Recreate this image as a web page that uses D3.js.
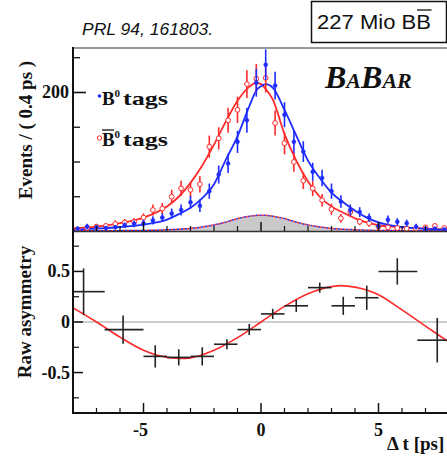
<!DOCTYPE html>
<html lang="en">
<head>
<meta charset="UTF-8">
<title>BaBar sin2beta: Delta t distributions and raw asymmetry</title>
<script src="https://cdn.jsdelivr.net/npm/d3@7"></script>
<style>
    body { margin: 0; background: #fff; }
    svg { display: block; }
    .serif { font-family: 'Liberation Serif', 'DejaVu Serif', serif; font-weight: bold; fill: #111; }
    .sans { font-family: 'Liberation Sans', Arial, sans-serif; fill: #111; }
</style>
</head>
<body>
<svg id="chart" width="447" height="457"></svg>
<script>
// --- data ---
// top panel: 0.4 ps bins, centres
const binCentres = [-7.8, -7.4, -7.0, -6.6, -6.2, -5.8, -5.4, -5.0, -4.6, -4.2,
                    -3.8, -3.4, -3.0, -2.6, -2.2, -1.8, -1.4, -1.0, -0.6, -0.2,
                     0.2,  0.6,  1.0,  1.4,  1.8,  2.2,  2.6,  3.0,  3.4,  3.8,
                     4.2,  4.6,  5.0,  5.4,  5.8,  6.2,  6.6,  7.0,  7.4,  7.8];
const b0Counts = [4, 7, 6, 5, 6, 9, 11, 12, 16, 20, 26, 31, 42, 37, 58, 82, 98, 129, 160, 214,
                  240, 210, 168, 129, 115, 86, 77, 58, 43, 31, 28, 20, 8, 17, 14, 12, 7, 4, 4, 3];
const b0Errors = [3, 4, 3, 3, 3, 4, 5, 5, 6, 6, 7, 8, 9, 9, 11, 13, 14, 16, 18, 20,
                  22, 20, 18, 16, 15, 13, 12, 11, 9, 8, 7, 6, 4, 6, 5, 5, 4, 3, 3, 2];
const b0barCounts = [3, 5, 7, 8, 11, 13, 14, 20, 31, 33, 50, 62, 60, 68, 122, 134, 160, 175, 212, 220,
                     221, 156, 127, 100, 73, 62, 45, 32, 19, 28, 14, 12, 7, 6, 5, 4, 4, 6, 8, 5];
const b0barErrors = [2, 3, 4, 4, 5, 5, 5, 6, 8, 8, 10, 11, 11, 12, 16, 16, 18, 19, 20, 21,
                     21, 18, 16, 14, 12, 11, 9, 8, 6, 7, 5, 5, 4, 3, 3, 3, 3, 3, 4, 3];

// fit curves
const fitT     = [-8, -7, -6, -5, -4, -3.5, -3, -2.5, -2, -1.5, -1, -0.5, -0.2, 0, 0.2, 0.5, 1, 1.5, 2, 2.5, 3, 3.5, 4, 4.5, 5, 6, 7, 8];
const fitB0    = [2.5, 4, 6.5, 10, 17, 25, 34, 48, 68, 103, 137, 180, 203, 209, 212, 207, 175, 138, 102, 77, 56, 42, 30, 20, 13, 6.5, 3.8, 2.5];
const fitB0bar = [4.5, 7, 12, 20, 36, 50, 70, 95, 125, 158, 188, 208, 214, 212, 205, 190, 140, 102, 72, 50, 36, 27, 19, 13, 9, 6, 4, 3];
const bkgT     = [-8, -5, -4, -3, -2, -1.5, -1, -0.5, 0, 0.5, 1, 1.5, 2, 3, 4, 5, 8];
const bkgCounts = [1, 1.5, 2.5, 4.5, 9.5, 13.5, 18.5, 22, 23.5, 22, 18.5, 13.5, 9.5, 4.5, 2.5, 1.5, 1];

// bottom panel: raw asymmetry in variable bins
const asymT    = [-7.55, -5.87, -4.5, -3.5, -2.5, -1.45, -0.5, 0.5, 1.5, 2.5, 3.5, 4.5, 5.8, 7.5];
const asymLo   = [-8, -6.65, -5, -4, -3, -2, -1, 0, 1, 2, 3, 4, 5, 6.65];
const asymHi   = [-6.65, -5, -4, -3, -2, -1, 0, 1, 2, 3, 4, 5, 6.65, 8];
const asymVal  = [0.30, -0.075, -0.34, -0.35, -0.34, -0.22, -0.075, 0.08, 0.16, 0.34, 0.16, 0.24, 0.50, -0.18];
const asymErr  = [0.23, 0.14, 0.11, 0.08, 0.09, 0.05, 0.055, 0.05, 0.06, 0.05, 0.09, 0.12, 0.13, 0.22];
const asymFitT = [-8, -7, -6, -5, -4, -3.4, -3, -2, -1, 0, 1, 2, 3, 3.4, 4, 5, 6, 7, 8];
const asymFit  = [0.14, 0.0, -0.15, -0.28, -0.35, -0.36, -0.355, -0.28, -0.155, 0, 0.155, 0.28, 0.35, 0.36, 0.345, 0.27, 0.12, -0.04, -0.2];

const topTicksMajor = [200];
const topTicksMinor = [50, 100, 150, 250];
const xTicksMajor = [-5, 0, 5];
const xTicksMinor = [-7, -6, -4, -3, -2, -1, 1, 2, 3, 4, 6, 7];
const asymTicksMajor = [-0.5, 0, 0.5];
const asymTicksMinor = [-0.75, -0.25, 0.25, 0.75];

const blue = "#1f2cff", red = "#ff2a2a";

const svg = d3.select("#chart");

const x = d3.scaleLinear().domain([-8, 8]).range([73, 449]);
const yTop = d3.scaleLinear().domain([0, 264]).range([231.5, 48]);
const yBot = d3.scaleLinear().domain([-0.9, 0.9]).range([413, 231]);

svg.append("clipPath").attr("id", "clipTop")
   .append("rect").attr("x", 73).attr("y", 48).attr("width", 376).attr("height", 184);
svg.append("clipPath").attr("id", "clipBot")
   .append("rect").attr("x", 73).attr("y", 231).attr("width", 376).attr("height", 182);

// ---------- top panel ----------
const topG = svg.append("g").attr("clip-path", "url(#clipTop)");

// background component
const bkg = bkgT.map((t, i) => [t, bkgCounts[i]]);
topG.append("path")
   .attr("d", d3.area().x(d => x(d[0])).y0(yTop(0)).y1(d => yTop(d[1])).curve(d3.curveMonotoneX)(bkg))
   .attr("fill", "#c9c9c9");
const bkgLine = d3.line().x(d => x(d[0])).y(d => yTop(d[1])).curve(d3.curveMonotoneX);
topG.append("path").attr("d", bkgLine(bkg)).attr("fill", "none")
   .attr("stroke", blue).attr("stroke-width", 1.5).attr("stroke-dasharray", "2,2");
topG.append("path").attr("d", bkgLine(bkg)).attr("fill", "none")
   .attr("stroke", red).attr("stroke-width", 1.5).attr("stroke-dasharray", "2,2").attr("stroke-dashoffset", 2);

// fit curves
const fitLine = d3.line().x(d => x(d[0])).y(d => yTop(d[1])).curve(d3.curveMonotoneX);
topG.append("path").attr("d", fitLine(fitT.map((t, i) => [t, fitB0bar[i]])))
   .attr("fill", "none").attr("stroke", red).attr("stroke-width", 1.8);
topG.append("path").attr("d", fitLine(fitT.map((t, i) => [t, fitB0[i]])))
   .attr("fill", "none").attr("stroke", blue).attr("stroke-width", 1.8);

// data points
function drawPoints(counts, errors, color, open) {
    const g = topG.append("g");
    const pts = binCentres.map((t, i) => ({t, n: counts[i], e: errors[i]}));
    g.selectAll("line").data(pts).join("line")
     .attr("x1", d => x(d.t)).attr("x2", d => x(d.t))
     .attr("y1", d => yTop(d.n - d.e)).attr("y2", d => yTop(d.n + d.e))
     .attr("stroke", color).attr("stroke-width", 1.6);
    g.selectAll("circle").data(pts).join("circle")
     .attr("cx", d => x(d.t)).attr("cy", d => yTop(d.n))
     .attr("r", open ? 2.4 : 2)
     .attr("fill", open ? "#fff" : color)
     .attr("stroke", color).attr("stroke-width", open ? 1 : 0.5);
}
drawPoints(b0barCounts, b0barErrors, red, true);
drawPoints(b0Counts, b0Errors, blue, false);

// frame and ticks of the top panel
svg.append("line").attr("x1", 73).attr("x2", 447).attr("y1", 48).attr("y2", 48)
   .attr("stroke", "#777").attr("stroke-width", 1.5);
svg.append("g").selectAll("line").data(topTicksMajor).join("line")
   .attr("x1", 73).attr("x2", 86).attr("y1", d => yTop(d)).attr("y2", d => yTop(d))
   .attr("stroke", "#111").attr("stroke-width", 1.6);
svg.append("g").selectAll("line").data(topTicksMinor).join("line")
   .attr("x1", 73).attr("x2", 80).attr("y1", d => yTop(d)).attr("y2", d => yTop(d))
   .attr("stroke", "#111").attr("stroke-width", 1.3);
svg.append("g").selectAll("text").data(topTicksMajor).join("text").attr("class", "serif")
   .attr("x", 69).attr("y", d => yTop(d) + 6).attr("text-anchor", "end")
   .attr("font-size", 18).text(d => d);

function xTicks(yBase, majLen, minLen) {
    svg.append("g").selectAll("line").data(xTicksMajor).join("line")
       .attr("x1", d => x(d)).attr("x2", d => x(d)).attr("y1", yBase).attr("y2", yBase - majLen)
       .attr("stroke", "#111").attr("stroke-width", 1.5);
    svg.append("g").selectAll("line").data(xTicksMinor).join("line")
       .attr("x1", d => x(d)).attr("x2", d => x(d)).attr("y1", yBase).attr("y2", yBase - minLen)
       .attr("stroke", "#111").attr("stroke-width", 1.2);
}
xTicks(231, 9, 5);

// ---------- bottom panel ----------
const botG = svg.append("g").attr("clip-path", "url(#clipBot)");
botG.append("line").attr("x1", 73).attr("x2", 449).attr("y1", yBot(0)).attr("y2", yBot(0))
   .attr("stroke", "#bdbdbd").attr("stroke-width", 1.5);
botG.append("path")
   .attr("d", d3.line().x(d => x(d[0])).y(d => yBot(d[1])).curve(d3.curveMonotoneX)(asymFitT.map((t, i) => [t, asymFit[i]])))
   .attr("fill", "none").attr("stroke", red).attr("stroke-width", 1.6);
const asym = asymT.map((t, i) => ({t, lo: asymLo[i], hi: asymHi[i], v: asymVal[i], e: asymErr[i]}));
botG.append("g").selectAll("line").data(asym).join("line")
   .attr("x1", d => x(d.lo)).attr("x2", d => x(d.hi)).attr("y1", d => yBot(d.v)).attr("y2", d => yBot(d.v))
   .attr("stroke", "#222").attr("stroke-width", 1.6);
botG.append("g").selectAll("line").data(asym).join("line")
   .attr("x1", d => x(d.t)).attr("x2", d => x(d.t)).attr("y1", d => yBot(d.v - d.e)).attr("y2", d => yBot(d.v + d.e))
   .attr("stroke", "#222").attr("stroke-width", 1.6);

// frame between panels and axes
svg.append("line").attr("x1", 73).attr("x2", 447).attr("y1", 231.5).attr("y2", 231.5)
   .attr("stroke", "#333").attr("stroke-width", 1.5);
svg.append("line").attr("x1", 73).attr("x2", 447).attr("y1", 413).attr("y2", 413)
   .attr("stroke", "#111").attr("stroke-width", 2);
svg.append("line").attr("x1", 73).attr("x2", 73).attr("y1", 47).attr("y2", 414)
   .attr("stroke", "#111").attr("stroke-width", 2);

svg.append("g").selectAll("line").data(asymTicksMajor).join("line")
   .attr("x1", 73).attr("x2", 83).attr("y1", d => yBot(d)).attr("y2", d => yBot(d))
   .attr("stroke", "#111").attr("stroke-width", 1.5);
svg.append("g").selectAll("line").data(asymTicksMinor).join("line")
   .attr("x1", 73).attr("x2", 79).attr("y1", d => yBot(d)).attr("y2", d => yBot(d))
   .attr("stroke", "#111").attr("stroke-width", 1.2);
svg.append("g").selectAll("text").data(asymTicksMajor).join("text").attr("class", "serif")
   .attr("x", 70).attr("y", d => yBot(d) + 6).attr("text-anchor", "end")
   .attr("font-size", 18).text(d => d === 0 ? "0" : (d < 0 ? "-" : "") + Math.abs(d));
xTicks(413, 10, 5);
svg.append("g").selectAll("text").data(xTicksMajor).join("text").attr("class", "serif")
   .attr("x", d => x(d) + (d < 0 ? -3 : 0)).attr("y", 436).attr("text-anchor", "middle")
   .attr("font-size", 18).text(d => d < 0 ? "-" + Math.abs(d) : d);

// ---------- labels ----------
svg.append("text").attr("class", "serif").attr("font-size", 19)
   .attr("text-anchor", "middle").attr("transform", "translate(32,130) rotate(-90)")
   .text("Events / ( 0.4 ps )");
svg.append("text").attr("class", "serif").attr("font-size", 19)
   .attr("text-anchor", "middle").attr("transform", "translate(31,312) rotate(-90)")
   .text("Raw asymmetry");
svg.append("text").attr("class", "serif").attr("font-size", 19)
   .attr("x", 387).attr("y", 450).text("\u0394 t [ps]");

// legend
svg.append("circle").attr("cx", 99.5).attr("cy", 96).attr("r", 1.8).attr("fill", blue);
svg.append("circle").attr("cx", 99.5).attr("cy", 138).attr("r", 2.2).attr("fill", "#fff")
   .attr("stroke", red).attr("stroke-width", 1);
[[105, false], [146, true]].forEach(([yb, bar]) => {
    svg.append("text").attr("class", "serif").attr("font-size", 19).attr("x", 102).attr("y", yb).text("B");
    svg.append("text").attr("class", "serif").attr("font-size", 11).attr("x", 114.5).attr("y", yb - 8).text("0");
    svg.append("text").attr("class", "serif").attr("font-size", 19).attr("x", 123).attr("y", yb)
       .attr("textLength", 45).attr("lengthAdjust", "spacingAndGlyphs").text("tags");
    if (bar) svg.append("line").attr("x1", 102).attr("x2", 114).attr("y1", yb - 16).attr("y2", yb - 16)
       .attr("stroke", "#111").attr("stroke-width", 1.3);
});

// BaBar logo
const logo = svg.append("text").attr("class", "serif").attr("font-style", "italic")
   .attr("x", 325).attr("y", 88);
[["B", 32], ["A", 22], ["B", 32], ["A", 22], ["R", 22]].forEach(([c, s]) =>
    logo.append("tspan").attr("font-size", s).text(c));

// reference and sample labels
svg.append("text").attr("class", "sans").attr("font-style", "italic").attr("font-size", 16)
   .attr("x", 82).attr("y", 35).attr("textLength", 131).attr("lengthAdjust", "spacingAndGlyphs")
   .text("PRL 94, 161803.");
svg.append("rect").attr("x", 311.5).attr("y", 1.5).attr("width", 135).attr("height", 41)
   .attr("fill", "none").attr("stroke", "#111").attr("stroke-width", 1.5);
svg.append("text").attr("class", "sans").attr("font-size", 20)
   .attr("x", 317).attr("y", 29).attr("textLength", 114).attr("lengthAdjust", "spacingAndGlyphs")
   .text("227 Mio BB");
svg.append("line").attr("x1", 417).attr("x2", 431.5).attr("y1", 10).attr("y2", 10)
   .attr("stroke", "#111").attr("stroke-width", 1.3);
</script>
</body>
</html>
